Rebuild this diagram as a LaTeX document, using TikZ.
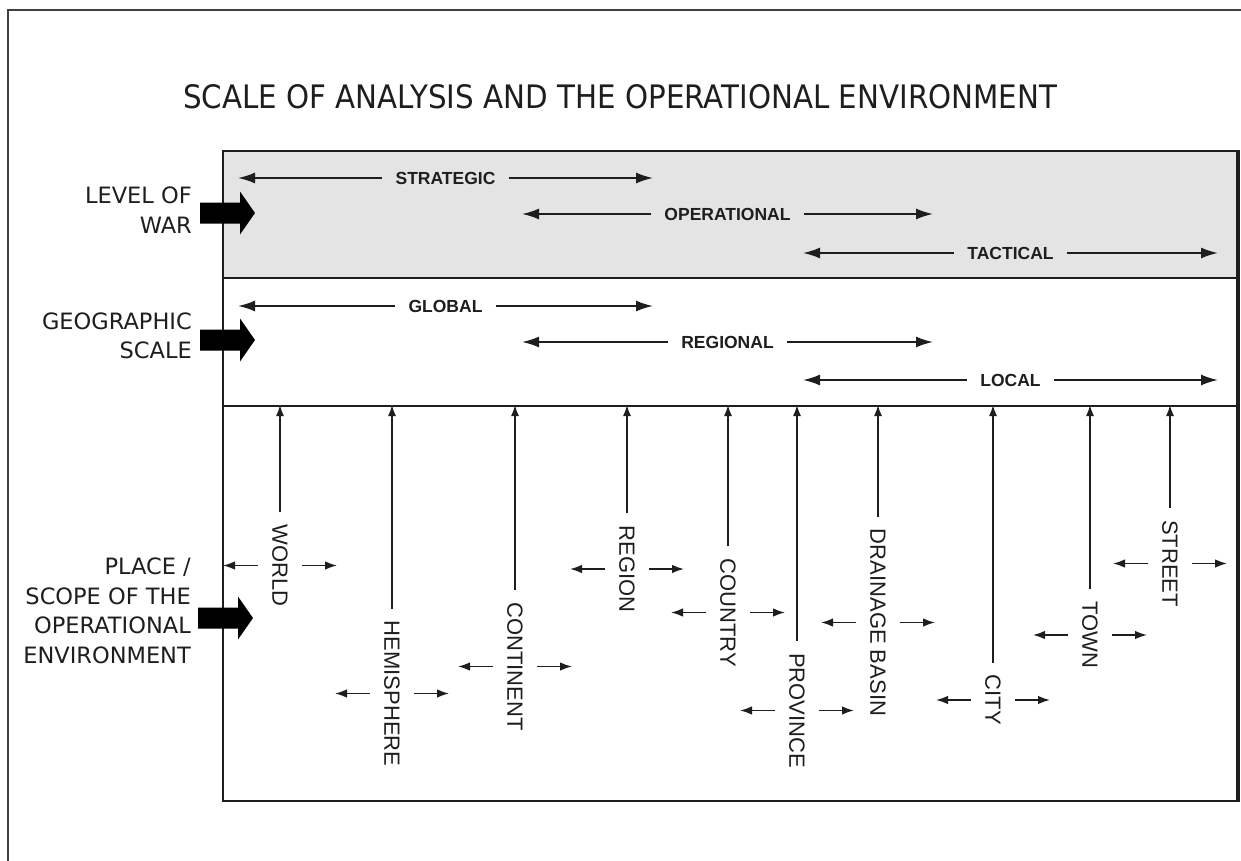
\documentclass[tikz,border=0pt]{standalone}
\usepackage{graphicx}
\usepackage{fontspec}
\setmainfont{Liberation Sans}
\newfontfamily\dejavu{DejaVu Sans}
\usetikzlibrary{arrows.meta,calc}

\definecolor{bandgray}{RGB}{228,228,228}
\definecolor{ink}{RGB}{30,30,30}

\tikzset{
  frameline/.style={line width=2pt, black!75},
  band/.style={draw=ink, line width=2pt, inner sep=0, anchor=north west},
  sidelabel/.style={font=\dejavu\fontsize{22.5}{29.5}\selectfont, align=right, anchor=east, inner sep=0, text=ink},
  bandlabel/.style={font=\bfseries\fontsize{17.5}{20}\selectfont, inner xsep=13pt, inner ysep=2pt, text=ink},
  bandarrow/.style={line width=1.8pt, draw=ink, -{Latex[length=17pt,width=11pt]}},
  placelabel/.style={font=\fontsize{22}{26}\selectfont, rotate=-90, inner xsep=12pt, inner ysep=2pt, text=ink},
  riser/.style={line width=1.5pt, draw=ink, -{Latex[length=11pt,width=8pt]}},
  spread/.style={line width=1.6pt, draw=ink, -{Latex[length=12pt,width=8.5pt]}},
  bigarrow/.pic={
    \fill[black] (-27.5,-10.5) -- ++(40,0) -- ++(0,-11) -- ++(15,21.5)
      -- ++(-15,21.5) -- ++(0,-11) -- ++(-40,0) -- cycle;
  }
}

\begin{document}
\begin{tikzpicture}[x=1pt,y=-1pt]
\useasboundingbox (0,0) rectangle (1241,861);
\fill[white] (0,0) rectangle (1241,861);

% outer frame (runs off the page on the right and bottom)
\begin{scope}
  \clip (0,0) rectangle (1241,861);
  \draw[frameline] (8,880) -- (8,10) -- (1260,10);
\end{scope}

% title
\node[anchor=south west, inner sep=0, text=ink] (title) at (183,109)
  {\resizebox{874pt}{24pt}{\dejavu SCALE OF ANALYSIS AND THE OPERATIONAL ENVIRONMENT}};

% the three bands
\node[band, fill=bandgray, minimum width=1014, minimum height=127] (war) at (222,150) {};
\node[band, fill=white, minimum width=1014, minimum height=128] (geo) at (222,277) {};
\node[band, fill=white, minimum width=1014, minimum height=395] (place) at (222,405) {};
\draw[line width=3pt, ink] (war.north east) -- (place.south east);

% row labels on the left
\node[sidelabel] (lwar) at (192,210) {LEVEL OF\\WAR};
\node[sidelabel] (lgeo) at (192,336) {GEOGRAPHIC\\SCALE};
\node[sidelabel] (lplace) at (191,611) {PLACE /\\SCOPE OF THE\\OPERATIONAL\\ENVIRONMENT};

\pic at (227.5,213) {bigarrow};
\pic at (227.5,340) {bigarrow};
\pic at (225.5,618) {bigarrow};

% spans within the level-of-war and geographic-scale bands
\foreach \n/\l/\r/\y/\t in {
    strat/238/653/178/STRATEGIC,
    oper/522/933/214/OPERATIONAL,
    tact/803/1218/253/TACTICAL,
    glob/238/653/306/GLOBAL,
    regi/522/933/342/REGIONAL,
    loca/803/1218/380/LOCAL}{
  \coordinate (\n L) at (\l,\y);
  \coordinate (\n R) at (\r,\y);
  \node[bandlabel] (\n) at ($(\n L)!0.5!(\n R)$) {\t};
  \draw[bandarrow] (\n) -- (\n L);
  \draw[bandarrow] (\n) -- (\n R);
}

% places, from world down to street
\foreach \n/\x/\y/\t in {
    world/280/565.5/WORLD,
    hemi/392/693.5/HEMISPHERE,
    cont/515/666.5/CONTINENT,
    regn/627/569/REGION,
    ctry/728/612.5/COUNTRY,
    prov/797/710.5/PROVINCE,
    drain/878/622.5/DRAINAGE BASIN,
    city/993/700/CITY,
    town/1090/635/TOWN,
    street/1170/563.5/STREET}{
  \node[placelabel] (\n) at (\x,\y) {\t};
  \draw[riser] (\n) -- (\n |- place.north);
  \draw[spread] ([xshift=-22pt]\n.center) -- ++(-35,0);
  \draw[spread] ([xshift=22pt]\n.center) -- ++(35,0);
}
\end{tikzpicture}
\end{document}
